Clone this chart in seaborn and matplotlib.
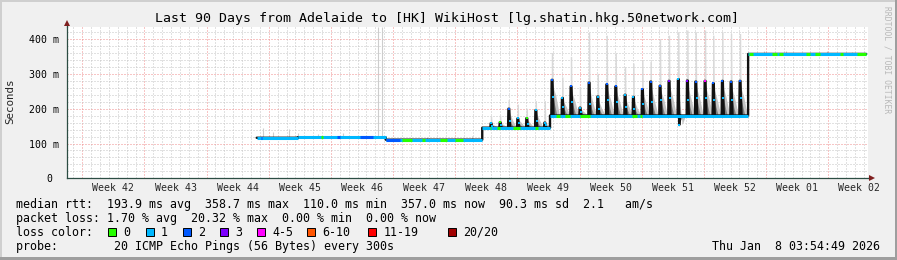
import numpy as np
import pandas as pd
import matplotlib
matplotlib.use("Agg")
import matplotlib.pyplot as plt
import seaborn as sns
from matplotlib.patches import Rectangle

# ---------------- data ----------------
title = "Last 90 Days from Adelaide to [HK] WikiHost [lg.shatin.hkg.50network.com]"
week_labels = ["Week 42", "Week 43", "Week 44", "Week 45", "Week 46", "Week 47", "Week 48",
               "Week 49", "Week 50", "Week 51", "Week 52", "Week 01", "Week 02"]
week_bounds = [1.72, 8.72, 15.72, 22.72, 29.72, 36.72, 43.72, 50.72, 57.72, 64.72, 71.72, 78.72, 85.72]
y_ticks = [0, 100, 200, 300, 400]
y_ticklabels = ["0 ", "100 m", "200 m", "300 m", "400 m"]

# median rtt baseline segments (days from left edge, ms)
seg_start = [21.36, 25.98, 35.89, 46.76, 54.39, 76.70]
seg_end   = [25.98, 35.89, 46.76, 54.39, 76.70, 90.00]
seg_level = [116.5, 117.5, 111.0, 145.5, 180.5, 357.5]

# daily latency spikes of the median (day, peak ms, value after peak ms, smoke top ms, loss class)
spike_day = [47.74, 48.76, 49.74, 50.75, 51.76, 52.78, 53.79,
             54.61, 55.77, 56.75, 57.76, 58.78, 59.76, 60.77, 61.78, 62.83, 63.77, 64.78,
             65.72, 66.77, 67.78, 68.83, 69.85, 70.79, 71.84, 72.77, 73.79, 74.77, 75.78]
spike_peak = [158, 161, 200, 172, 173, 196, 160,
              283, 231, 264, 203, 275, 235, 270, 264, 240, 234, 256,
              278, 266, 280, 285, 281, 278, 280, 273, 280, 278, 280]
spike_tail = [150, 152, 165, 158, 156, 165, 152,
              235, 205, 220, 190, 215, 200, 225, 220, 205, 200, 215,
              220, 225, 230, 153, 225, 230, 230, 225, 230, 225, 230]
spike_smoke = [178, 180, 225, 212, 200, 222, 222,
               360, 290, 349, 262, 418, 300, 410, 360, 320, 330, 340,
               335, 400, 410, 420, 425, 420, 425, 410, 420, 415, 415]
spike_loss = [1, 0, 2, 1, 0, 1, 1,
              2, 1, 2, 1, 2, 1, 2, 2, 1, 1, 2,
              2, 2, 3, 1, 3, 2, 4, 2, 2, 2, 2]

# loss colour of the median on flat parts (default class 1)
loss_rng_start = [21.8, 30.4, 33.0, 35.9, 28.6, 37.7, 39.97, 42.0, 43.7, 47.6, 48.4, 50.2, 52.7,
                  55.1, 56.1, 57.8, 63.6, 64.5, 76.8, 79.4, 80.2, 83.2, 84.2, 87.0, 89.0]
loss_rng_end   = [22.0, 30.7, 34.5, 37.5, 28.8, 38.9, 40.3, 42.8, 44.6, 47.8, 48.8, 51.0, 53.0,
                  55.5, 56.6, 58.9, 64.2, 64.7, 77.25, 79.95, 80.6, 83.7, 84.8, 87.4, 90.0]
loss_rng_class = [2, 2, 2, 2, 0, 0, 0, 0, 0, 0, 0, 0, 0,
                  0, 0, 0, 0, 0, 0, 0, 0, 0, 0, 0, 0]

# isolated smoke (ping spread) ticks on flat parts
flat_smoke_day = [22.10, 23.16, 25.03, 26.01, 28.26, 31.08, 34.99, 35.43, 40.5, 45.6, 78.5, 81.0, 85.6, 88.4]
flat_smoke_top = [144, 134, 141, 130, 127, 130, 434, 434, 118, 122, 366, 365, 366, 364]

loss_labels = ["0", "1", "2", "3", "4-5", "6-10", "11-19", "20/20"]
loss_colors = ["#26ff00", "#00b8ff", "#0059ff", "#7e00ff", "#ff00ff", "#ff5500", "#ff0000", "#a10000"]

stat_lines = [
    "median rtt:  193.9 ms avg  358.7 ms max  110.0 ms min  357.0 ms now  90.3 ms sd  2.1   am/s",
    "packet loss: 1.70 % avg  20.32 % max  0.00 % min  0.00 % now",
    "loss color:",
    "probe:        20 ICMP Echo Pings (56 Bytes) every 300s",
]
date_text = "Thu Jan  8 03:54:49 2026"
side_text = "RRDTOOL / TOBI OETIKER"

# ---------------- style ----------------
sns.set_theme(style="white")
plt.rcParams["font.family"] = ["DejaVu Sans Mono", "DejaVu Sans"]

W, H = 897, 260
BACK = "#f0f0f0"
AXIS = "#2c4d43"
ARROW = "#7f1f1f"

fig = plt.figure(figsize=(W / 100, H / 100), dpi=100, facecolor=BACK)
ax = fig.add_axes([67 / W, 1 - 178.3 / H, (868 - 67) / W, (178.3 - 27) / H])
ax.set_facecolor("white")


def level_at(d):
    for s, e, L in zip(seg_start, seg_end, seg_level):
        if s <= d <= e:
            return L
    return seg_level[-1]


# smoke around spikes: light column above, grey tail to the right
for d, p, t, sm in zip(spike_day, spike_peak, spike_tail, spike_smoke):
    L = level_at(d)
    ax.fill([d - 0.02, d - 0.02, d + 0.14, d + 0.2], [L, sm, sm, L], color="#d9d9d9", lw=0, zorder=2)
    ax.fill([d, d, d + 0.5, d + 0.9], [L, p - 0.05 * (p - L), t, L], color="#c4c4c4", lw=0, zorder=2.1)
    ax.fill([d, d, d + 0.35, d + 0.6], [L, p - 0.2 * (p - L), L + 0.55 * (t - L), L],
            color="#7e7e7e", lw=0, zorder=2.2)

ax.vlines(flat_smoke_day, [level_at(d) for d in flat_smoke_day], flat_smoke_top,
          colors="#cdcdcd", lw=0.8, zorder=2)

# median polyline
mx, my = [], []
for s, e, L in zip(seg_start, seg_end, seg_level):
    mx.append(s); my.append(L)
    for d, p, t in zip(spike_day, spike_peak, spike_tail):
        if s <= d < e:
            mx += [d - 0.07, d - 0.03, d + 0.06, d + 0.11, d + 0.18]
            my += [L, p, p, t, L]
    mx.append(e); my.append(L)
med = pd.DataFrame({"day": mx, "rtt": my})
sns.lineplot(data=med, x="day", y="rtt", sort=False, estimator=None, color="#111111",
             lw=1.7, ax=ax, zorder=3)

# loss-coloured median on flat parts
ax.hlines(seg_level, seg_start, seg_end, colors=loss_colors[1], lw=2.2, zorder=4)
for s, e, c in zip(loss_rng_start, loss_rng_end, loss_rng_class):
    ax.hlines(level_at((s + e) / 2), s, e, colors=loss_colors[c], lw=2.2, zorder=4.1)

# coloured dots along spikes
ax.plot([d + 0.11 for d in spike_day], spike_tail, ls="none", marker="s", ms=1.5,
        mew=0, color=loss_colors[1], zorder=5)
for cls in sorted(set(spike_loss)):
    xs = [d + 0.01 for d, c in zip(spike_day, spike_loss) if c == cls]
    ys = [p for p, c in zip(spike_peak, spike_loss) if c == cls]
    ax.plot(xs, ys, ls="none", marker="s", ms=1.6, mew=0, color=loss_colors[cls], zorder=5)

# axes, ticks, grid
ax.set_xlim(0, 90.2)
ax.set_ylim(0, 435)
ax.set_xticks(week_bounds)
ax.set_xticklabels([])
day_grid = [0.72 + k for k in range(90) if all(abs(0.72 + k - b) > 0.01 for b in week_bounds)]
ax.set_xticks(day_grid, minor=True)
ax.set_yticks(y_ticks, y_ticklabels)
ax.set_yticks([v for v in range(20, 436, 20) if v % 100], minor=True)
ax.grid(which="minor", color="#c4c4c4", ls=(0, (1, 2)), lw=0.72)
ax.grid(which="major", color="#f08c8c", ls=(0, (1, 2)), lw=0.72)
ax.set_axisbelow(True)
ax.tick_params(axis="both", which="both", length=0)
ax.tick_params(axis="y", labelsize=7.1, pad=5.5, colors="black")
ax.set_xlabel("")
ax.set_ylabel("Seconds", fontsize=7.8)
ax.yaxis.set_label_coords(-0.0643, 0.506)

sec = ax.secondary_xaxis("bottom")
sec.set_xticks([b + 3.5 for b in week_bounds], week_labels)
sec.tick_params(length=0, pad=3.3, labelsize=7.1)
sec.spines["bottom"].set_visible(False)

for side in ["top", "right"]:
    ax.spines[side].set_visible(False)
for side in ["left", "bottom"]:
    ax.spines[side].set_color(AXIS)
    ax.spines[side].set_linewidth(0.9)

ax.plot([0, 0], [1, 1.025], transform=ax.transAxes, color=AXIS, lw=0.9, clip_on=False)
ax.plot([0], [1.025], transform=ax.transAxes, marker="^", ms=4, mew=0, color=ARROW, clip_on=False)
ax.plot([1, 1.005], [0, 0], transform=ax.transAxes, color=AXIS, lw=0.9, clip_on=False)
ax.plot([1.005], [0], transform=ax.transAxes, marker=">", ms=4, mew=0, color=ARROW, clip_on=False)


def fx(x):
    return x / W


def fy(y):
    return 1 - y / H


fig.text(fx(446.7), fy(18.5), title, ha="center", va="center", fontsize=9.5, color="black")
fig.text(fx(886.5), fy(60), side_text, rotation=270, ha="center", va="center",
         fontsize=5.8, color="#b8b8b8")

for i, line in enumerate(stat_lines):
    fig.text(fx(16), fy(204.3 + 14 * i), line, ha="left", va="center", fontsize=8.4, color="black")
fig.text(fx(880), fy(246.3), date_text, ha="right", va="center", fontsize=8.4, color="black")

box_left = [108.3, 145.7, 182.7, 219.7, 256.7, 306.7, 368.3, 447.7]
for bx, lab, col in zip(box_left, loss_labels, loss_colors):
    fig.patches.append(Rectangle((fx(bx), fy(236.3)), 8 / W, 8 / H, transform=fig.transFigure,
                                 facecolor=col, edgecolor="black", lw=0.7))
    fig.text(fx(bx + 15.3), fy(232.3), lab, ha="left", va="center", fontsize=8.4, color="black")

# 3D frame
fig.patches.append(Rectangle((0, 1 - 2 / H), 1, 2 / H, transform=fig.transFigure, color="#cfcfcf", lw=0))
fig.patches.append(Rectangle((0, 0), 2 / W, 1, transform=fig.transFigure, color="#cfcfcf", lw=0))
fig.patches.append(Rectangle((0, 0), 1, 3 / H, transform=fig.transFigure, color="#9e9e9e", lw=0))
fig.patches.append(Rectangle((1 - 2 / W, 0), 2 / W, 1, transform=fig.transFigure, color="#9e9e9e", lw=0))

fig.savefig("out.png", dpi=100, facecolor=BACK)
